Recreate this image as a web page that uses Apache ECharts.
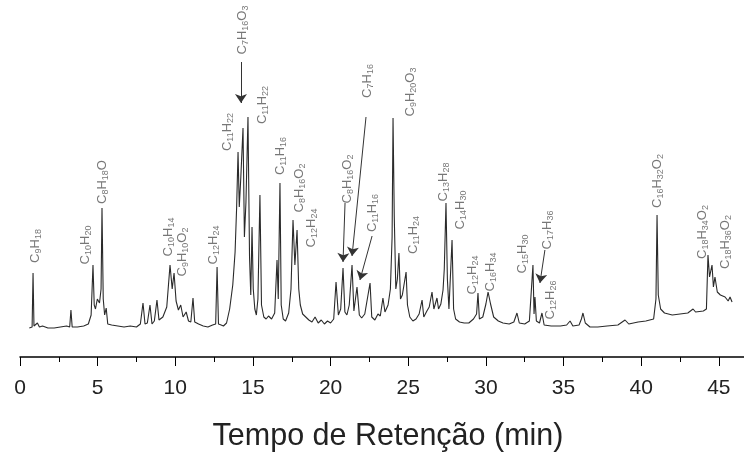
<!DOCTYPE html>
<html><head><meta charset="utf-8">
<script src="https://cdn.jsdelivr.net/npm/echarts@6/dist/echarts.min.js"></script>
<style>html,body{margin:0;padding:0;background:#fff}#c{width:744px;height:452px}</style>
</head><body><div id="c"></div>
<script>
// retention time (min)
const retTime = [0.60,0.78,0.84,0.90,1.00,1.12,1.25,1.45,1.80,2.20,2.60,3.00,3.20,3.28,3.36,3.70,4.10,4.40,4.58,4.70,4.78,4.86,4.98,5.12,5.22,5.28,5.36,5.45,5.55,5.65,5.90,6.30,6.70,7.10,7.50,7.75,7.92,8.05,8.20,8.37,8.50,8.65,8.82,8.95,9.20,9.45,9.66,9.80,9.92,10.05,10.20,10.35,10.50,10.70,10.85,11.00,11.14,11.25,11.50,11.80,12.10,12.40,12.60,12.69,12.78,12.95,13.10,13.30,13.50,13.70,13.85,13.95,14.04,14.12,14.22,14.36,14.45,14.55,14.68,14.78,14.86,14.94,15.02,15.12,15.22,15.32,15.45,15.55,15.70,15.85,16.00,16.20,16.40,16.55,16.63,16.74,16.82,16.95,17.10,17.30,17.45,17.58,17.70,17.84,17.95,18.05,18.20,18.40,18.60,18.80,19.00,19.20,19.40,19.60,19.80,20.00,20.20,20.35,20.50,20.65,20.80,20.92,21.05,21.20,21.38,21.50,21.70,21.85,22.00,22.20,22.54,22.65,22.85,23.05,23.20,23.37,23.50,23.70,23.85,23.96,24.02,24.10,24.20,24.30,24.40,24.50,24.62,24.86,24.95,25.10,25.30,25.50,25.70,25.89,26.00,26.20,26.35,26.53,26.65,26.85,26.95,27.10,27.24,27.32,27.43,27.52,27.62,27.82,27.92,28.05,28.30,28.60,28.90,29.20,29.40,29.49,29.58,29.80,30.00,30.14,30.30,30.50,30.80,31.10,31.50,31.80,32.00,32.15,32.50,32.80,33.03,33.10,33.16,33.25,33.45,33.61,33.75,34.20,34.80,35.20,35.42,35.60,36.00,36.15,36.25,36.40,36.70,37.20,37.80,38.50,38.96,39.20,39.80,40.30,40.80,40.95,41.02,41.10,41.25,41.50,42.00,42.50,43.00,43.34,43.50,44.00,44.20,44.30,44.40,44.56,44.65,44.75,44.90,45.10,45.40,45.60,45.72,45.85];
// detector signal (arbitrary units)
const signal = [29,30,84,31,30,34,30,31,29,29,30,31,30,47,30,30,31,33,42,92,52,48,58,54,68,149,58,42,49,33,32,31,30,31,30,33,54,33,34,52,33,36,57,37,40,50,92,68,84,56,47,52,40,45,36,35,59,35,33,31,30,32,33,90,33,32,31,34,48,72,105,150,205,150,180,229,120,155,240,100,62,130,68,48,42,58,162,52,40,38,41,38,44,97,58,174,52,38,36,44,68,137,92,127,68,52,43,40,37,35,40,34,37,33,36,34,38,75,42,48,89,45,42,52,92,46,70,42,39,43,74,40,37,43,41,59,45,52,68,120,239,140,68,78,104,58,62,85,52,40,36,38,43,57,40,46,50,65,48,59,48,53,67,88,154,78,48,117,48,38,35,34,34,38,43,64,38,40,53,65,53,40,36,34,33,35,44,34,33,36,92,43,60,36,34,44,32,31,31,32,36,31,32,38,44,34,30,30,31,32,37,33,35,36,38,58,142,62,48,44,42,43,44,48,45,46,48,102,80,92,70,80,65,62,60,56,60,55];

// tick labels
const xTicks = [0,5,10,15,20,25,30,35,40,45];

// peak annotations
const peakNames = ['C9H18','C10H20','C8H18O','C10H14','C9H10O2','C12H24','C11H22','C7H16O3','C11H22','C11H16','C8H16O2','C12H24','C8H16O2','C7H16','C11H16','C9H20O3','C11H24','C13H28','C14H30','C12H24','C16H34','C15H30','C17H36','C12H26','C16H32O2','C18H34O2','C18H36O2'];
const nameTime = [0.97,4.19,5.28,9.53,10.43,12.43,13.33,14.29,15.58,16.74,17.97,18.74,21.06,22.34,22.67,25.11,25.31,27.24,28.33,29.10,30.26,32.32,33.93,34.13,41.02,43.91,45.40];
const nameLevel = [111,112,175,120,105,112,225,327,252,201,169,129,178,276,144,265,122,175,147,82,85,103,127,57,176,125,115];

// arrows: start (time, level) -> end (time, level)
const arrowStartTime = [14.23,20.93,22.28,22.67,33.80];
const arrowStartLevel = [295,154,240,121,107];
const arrowEndTime = [14.23,20.80,21.38,21.89,33.48];
const arrowEndLevel = [254,95,101,77,74];

function richFormula(s){
  return s.replace(/([A-Z][a-z]?)|(\d+)/g, (m, el, num) => el ? '{n|' + el + '}' : '{s|' + num + '}');
}

const chart = echarts.init(document.getElementById('c'), null, {renderer:'canvas'});
const font = 'Liberation Sans, Arial, sans-serif';
chart.setOption({
  animation:false,
  backgroundColor:'#fff',
  title:{text:'Tempo de Retenção (min)', left:388, top:421, textAlign:'center', padding:0,
    textStyle:{fontFamily:font, fontSize:30.5, fontWeight:'normal', color:'#222'}},
  grid:{left:20, top:0, width:776.5, height:357, containLabel:false, outerBoundsMode:'none'},
  xAxis:{type:'value', min:0, max:50, interval:5,
    axisLine:{show:true, lineStyle:{color:'#000', width:1.5}},
    axisTick:{show:true, inside:false, length:9, lineStyle:{color:'#000', width:1}},
    minorTick:{show:true, splitNumber:2, length:5, lineStyle:{color:'#000', width:1}},
    splitLine:{show:false},
    axisLabel:{fontFamily:font, fontSize:21, color:'#222', margin:21,
      formatter:v => xTicks.indexOf(v) >= 0 ? String(v) : ''}},
  yAxis:{type:'value', min:0, max:357, show:false},
  series:[
    {type:'line', data:retTime.map((t,i)=>[t, signal[i]]), showSymbol:false, symbol:'none',
     lineStyle:{color:'#2a2a2a', width:1.1}, z:3},
    {type:'scatter', symbolSize:0, clip:false, z:4,
     data:nameTime.map((t,i)=>({value:[t, nameLevel[i]], name:peakNames[i]})),
     label:{show:true, position:'inside', rotate:90, align:'center', verticalAlign:'middle',
       formatter:p => richFormula(p.name),
       rich:{
         n:{fontFamily:font, fontSize:13, color:'#555', lineHeight:16, verticalAlign:'middle'},
         s:{fontFamily:font, fontSize:9, color:'#555', lineHeight:9, verticalAlign:'bottom'}
       }}},
    {type:'lines', coordinateSystem:'cartesian2d', z:5,
     data:arrowStartTime.map((t,i)=>({coords:[[t, arrowStartLevel[i]],[arrowEndTime[i], arrowEndLevel[i]]]})),
     symbol:['none','arrow'], symbolSize:[0,9],
     lineStyle:{color:'#333', width:1, opacity:1}}
  ]
});
</script></body></html>
